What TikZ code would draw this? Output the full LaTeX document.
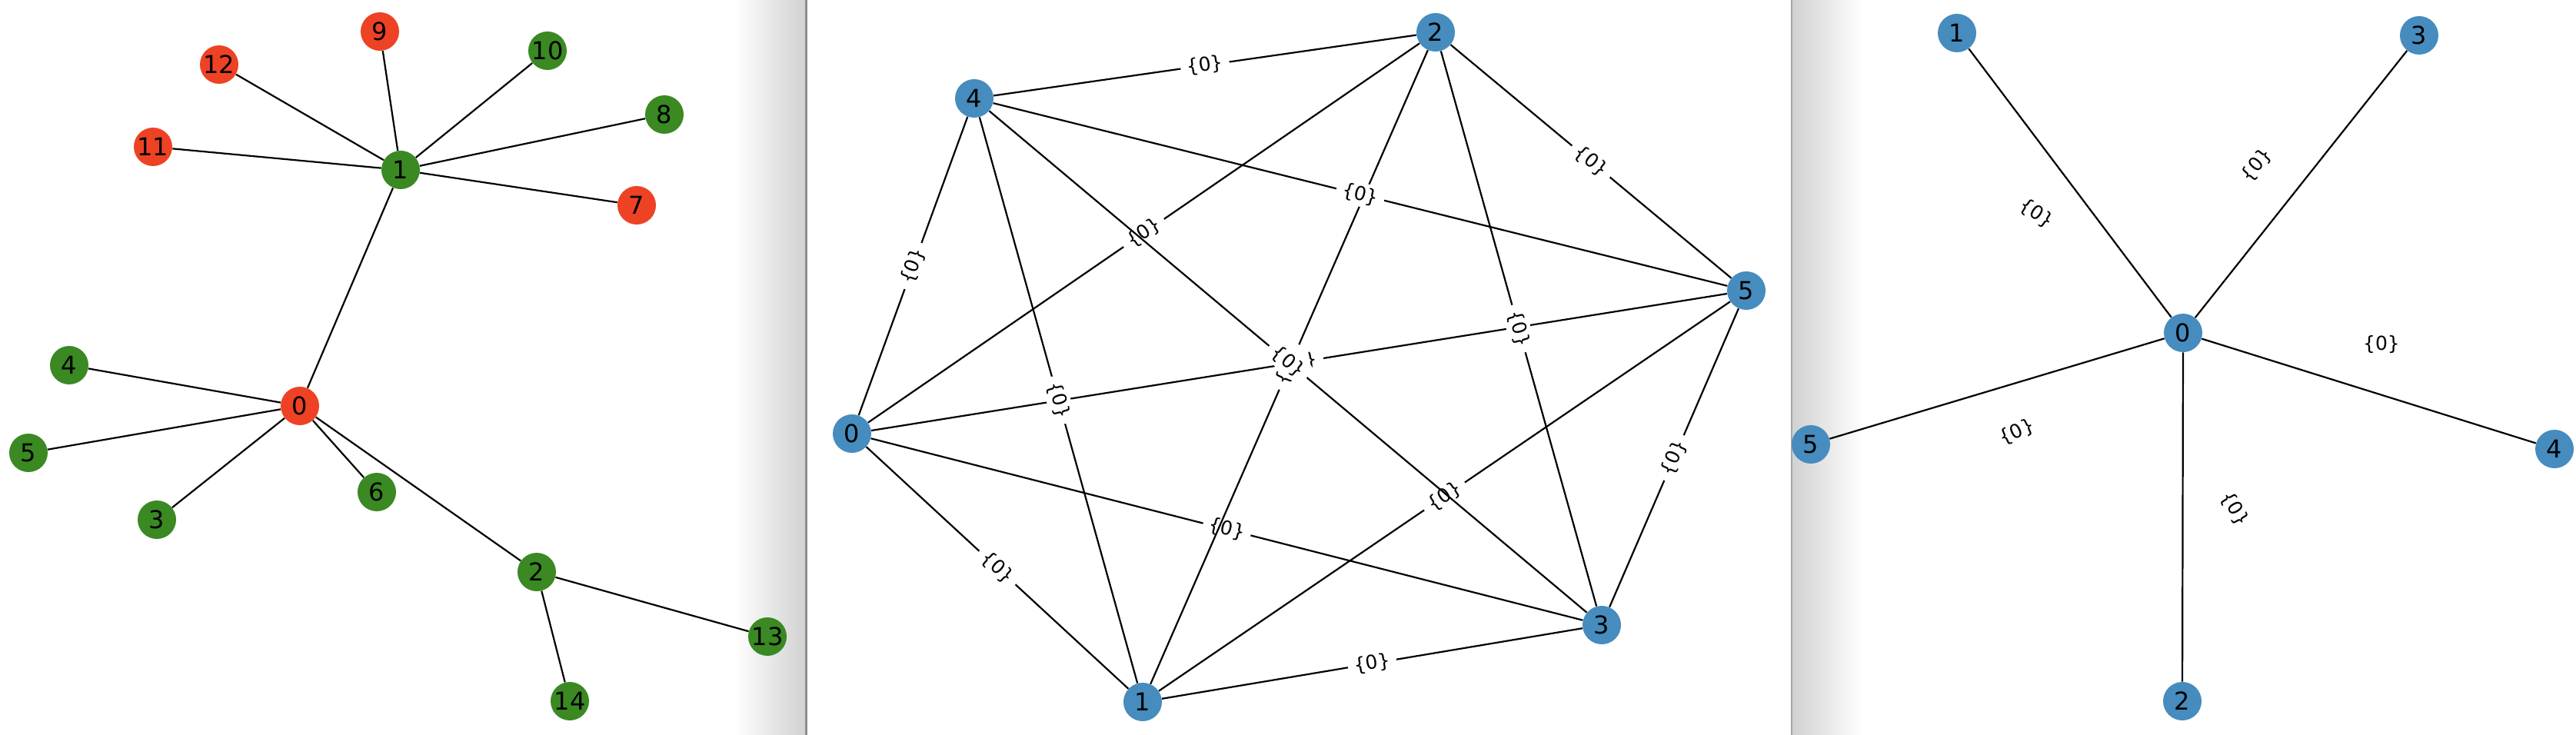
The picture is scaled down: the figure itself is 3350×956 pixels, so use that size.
\documentclass[tikz,border=0pt]{standalone}
\usepackage{fontspec}
\setmainfont{DejaVu Sans}
\definecolor{nred}{RGB}{238,66,36}
\definecolor{ngreen}{RGB}{58,137,35}
\definecolor{nblue}{RGB}{70,140,190}
\begin{document}
\begin{tikzpicture}[x=0.5pt,y=-0.5pt,
  vtx/.style={circle, minimum size=25pt, inner sep=0pt, text=black, font=\fontsize{16}{19}\selectfont},
  rv/.style={vtx, fill=nred},
  gv/.style={vtx, fill=ngreen},
  bv/.style={vtx, fill=nblue},
  edge/.style={draw=black, line width=1.1pt},
  elabel/.style={font=\fontsize{12.5}{15}\selectfont, fill=white, inner xsep=4pt, inner ysep=2pt, rounded corners=3pt}]
\useasboundingbox (0,0) rectangle (3350,956);
\fill[white] (0,0) rectangle (3350,956);
% window shadows
\shade[left color=white, right color=black!18] (955,0) rectangle (1048,956);
\fill[black!45] (1047,0) rectangle (1050,956);
\shade[left color=black!18, right color=white] (2331,0) rectangle (2423,956);
\fill[black!35] (2329,0) rectangle (2331,956);

% ---------------- left graph ----------------
\node[rv] (L9)  at (494,41)  {9};
\node[rv] (L12) at (285,84)  {12};
\node[gv] (L10) at (712,66)  {10};
\node[gv] (L8)  at (864,149) {8};
\node[rv] (L11) at (199,191) {11};
\node[gv] (L1)  at (521,221) {1};
\node[rv] (L7)  at (828,267) {7};
\node[gv] (L4)  at (90,475)  {4};
\node[rv] (L0)  at (390,528) {0};
\node[gv] (L5)  at (37,589)  {5};
\node[gv] (L6)  at (490,640) {6};
\node[gv] (L3)  at (204,676) {3};
\node[gv] (L2)  at (698,744) {2};
\node[gv] (L13) at (998,828) {13};
\node[gv] (L14) at (741,912) {14};
\foreach \a/\b in {L1/L9,L1/L12,L1/L10,L1/L8,L1/L11,L1/L7,L1/L0,L0/L4,L0/L5,L0/L3,L0/L6,L0/L2,L2/L13,L2/L14}
  \draw[edge] (\a) -- (\b);

% ---------------- middle graph ----------------
\node[bv] (M0) at (1108,564) {0};
\node[bv] (M1) at (1486,913) {1};
\node[bv] (M2) at (1867,42)  {2};
\node[bv] (M3) at (2083,813) {3};
\node[bv] (M4) at (1267,128) {4};
\node[bv] (M5) at (2271,378) {5};
\foreach \a/\b in {M0/M1,M0/M2,M0/M3,M0/M4,M0/M5,M1/M2,M1/M3,M1/M4,M1/M5,M2/M3,M2/M4,M2/M5,M3/M4,M3/M5,M4/M5}
  \draw[edge] (\a) -- node[elabel, sloped] {\{0\}} (\b);

% ---------------- right graph ----------------
\node[bv] (R0) at (2839,433) {0};
\node[bv] (R1) at (2545,43)  {1};
\node[bv] (R2) at (2838,912) {2};
\node[bv] (R3) at (3146,46)  {3};
\node[bv] (R4) at (3322,584) {4};
\node[bv] (R5) at (2355,578) {5};
\foreach \b in {R1,R2,R3,R4,R5}
  \draw[edge] (R0) -- (\b);
\node[elabel, rotate=-34] (r01) at (2648,278) {\{0\}};
\node[elabel, rotate=50]  (r03) at (2935,215) {\{0\}};
\node[elabel]             (r04) at (3097,448) {\{0\}};
\node[elabel, rotate=25]  (r05) at (2623,562) {\{0\}};
\node[elabel, rotate=-60] (r02) at (2906,662) {\{0\}};
\end{tikzpicture}
\end{document}
